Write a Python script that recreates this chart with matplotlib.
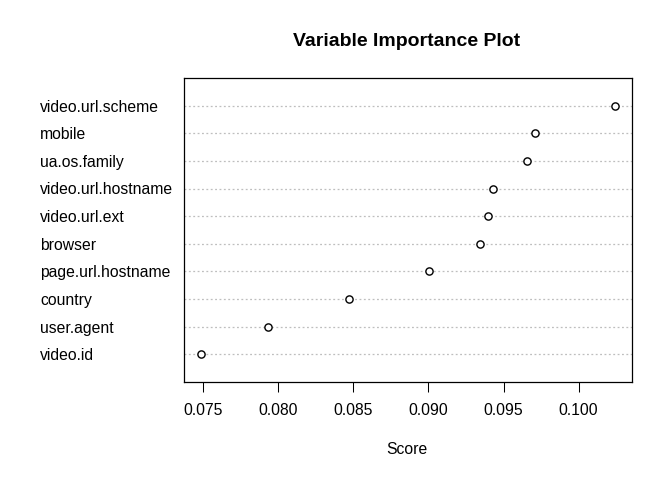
import matplotlib
matplotlib.use('Agg')
import matplotlib.pyplot as plt
import matplotlib.transforms as mtransforms

plt.rcParams['font.family'] = ['Liberation Sans', 'DejaVu Sans']

# variaveis (de baixo para cima, como no dotchart do R)
variaveis = ['video.id', 'user.agent', 'country', 'page.url.hostname',
             'browser', 'video.url.ext', 'video.url.hostname',
             'ua.os.family', 'mobile', 'video.url.scheme']
score = [0.07485, 0.07935, 0.08471, 0.09005, 0.09345,
         0.09398, 0.09431, 0.09658, 0.09711, 0.10245]
xticks = [0.075, 0.080, 0.085, 0.090, 0.095, 0.100]

fig = plt.figure(figsize=(6.72, 4.8), dpi=100)
ax = fig.add_axes([0.2743, 0.2042, 0.9405 - 0.2743, 0.8375 - 0.2042])

ypos = list(range(1, len(variaveis) + 1))
for y in ypos:
    ax.axhline(y, color='#bebebe', linestyle=(0, (1.5, 2)), linewidth=0.9,
               zorder=1)
ax.plot(score, ypos, 'o', mfc='white', mec='black', ms=5.2, mew=1.0,
        linestyle='none', zorder=3)

xmin, xmax = min(score), max(score)
d = (xmax - xmin) * 0.04
ax.set_xlim(xmin - d, xmax + d)
ax.set_ylim(0, len(variaveis) + 1)

ax.set_xticks(xticks)
ax.set_xticklabels(['{:.3f}'.format(v) for v in xticks], fontsize=11.3)
ax.tick_params(axis='x', direction='out', length=7, width=0.75, pad=8,
               color='black')
ax.set_yticks([])
for s in ax.spines.values():
    s.set_linewidth(0.9)
    s.set_color('black')

trans = mtransforms.blended_transform_factory(fig.transFigure, ax.transData)
for y, nome in zip(ypos, variaveis):
    ax.text(40 / 672, y - 0.05, nome, transform=trans, ha='left',
            va='center', fontsize=11.3)

fig.text(407 / 672, 1 - 41 / 480, 'Variable Importance Plot', ha='center',
         va='center', fontsize=14, fontweight='bold')
fig.text(407 / 672, 1 - 450 / 480, 'Score', ha='center', va='center',
         fontsize=11.3)

plt.savefig('out.png', dpi=100)
